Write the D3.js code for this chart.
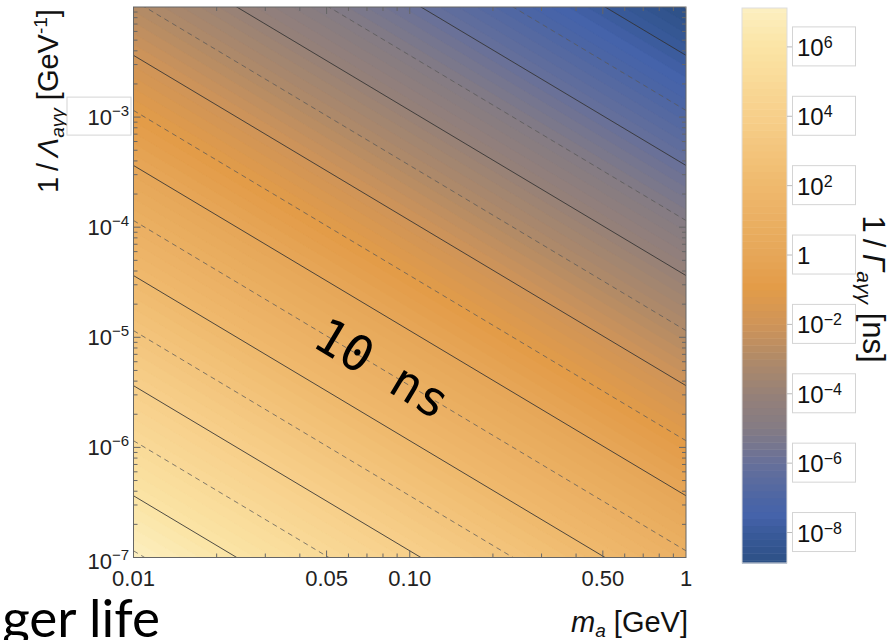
<!DOCTYPE html>
<html lang="en">
<head>
    <meta charset="UTF-8">
    <title>Axion diphoton lifetime</title>
    <style>
        body { margin: 0; padding: 0; background-color: #ffffff; }
        svg { display: block; font-family: "Liberation Sans", Arial, sans-serif; }
    </style>
</head>
<body>
<svg width="895" height="640"></svg>
<script src="https://d3js.org/d3.v7.min.js"></script>
<script>
    // axis ticks
    let massTicks = [0.01, 0.05, 0.1, 0.5, 1];
    let massTickLabels = ["0.01", "0.05", "0.10", "0.50", "1"];
    let couplingTickExps = [-7, -6, -5, -4, -3];
    let lifetimeTickExps = [6, 4, 2, 0, -2, -4, -6, -8];

    // contour levels, log10 of lifetime in ns
    let solidLevels = [-8, -6, -4, -2, 0, 2, 4, 6];
    let dashedLevels = [-9, -7, -5, -3, -1, 1, 3, 5, 7];

    // colour map (log10 ns -> colour)
    let colorStopExps = [7.12, 6, 4, 2, 0, -0.9, -2, -3, -4, -5, -6, -7, -7.5, -8, -8.88];
    let colorStopHex = ["#fcefc0", "#fbe4a5", "#f7cf8a", "#efb96d", "#e6a658", "#e39c48",
                        "#cf9458", "#b08a68", "#968178", "#847b84", "#67709a", "#4d66a4",
                        "#4563aa", "#3a5a9a", "#2c5085"];

    // 1/Gamma = 64 pi hbar / (g^2 m^3), in ns with g in GeV^-1 and m in GeV
    const TAU0 = 1.323e-13;
    let logTau = (m, g) => Math.log10(TAU0) - 2 * Math.log10(g) - 3 * Math.log10(m);

    let svg = d3.select("svg");
    let pLeft = 133.5, pRight = 686, pTop = 7, pBottom = 557.5;

    let x = d3.scaleLog().domain([0.01, 1]).range([pLeft, pRight]);
    let y = d3.scaleLog().domain([1e-7, 1e-2]).range([pBottom, pTop]);

    let color = d3.scaleLinear().domain(colorStopExps).range(colorStopHex)
        .interpolate(d3.interpolateRgb).clamp(true);

    // colour bands
    let n = 200;
    let grid = new Array(n * n);
    for (let j = 0; j < n; j++) {
        for (let i = 0; i < n; i++) {
            let m = x.invert(pLeft + (i + 0.5) / n * (pRight - pLeft));
            let g = y.invert(pTop + (j + 0.5) / n * (pBottom - pTop));
            grid[j * n + i] = logTau(m, g);
        }
    }
    let bandStep = 0.2;
    let thresholds = d3.range(-9, 7.4, bandStep);
    let contours = d3.contours().size([n, n]).thresholds(thresholds)(grid);

    let gridToPx = d3.geoTransform({
        point: function(px, py) {
            this.stream.point(pLeft + px / n * (pRight - pLeft), pTop + py / n * (pBottom - pTop));
        }
    });
    let path = d3.geoPath(gridToPx);

    svg.append("clipPath").attr("id", "plotclip")
        .append("rect").attr("x", pLeft).attr("y", pTop)
        .attr("width", pRight - pLeft).attr("height", pBottom - pTop);

    let plot = svg.append("g").attr("clip-path", "url(#plotclip)");
    plot.selectAll("path.band")
        .data(contours)
        .enter().append("path")
        .attr("class", "band")
        .attr("d", path)
        .attr("fill", d => color(d.value + bandStep / 2))
        .attr("stroke", d => color(d.value + bandStep / 2))
        .attr("stroke-width", 0.4);

    // contour lines
    let masses = [0.01, 1];
    let levelLine = L => d3.line()
        .x(m => x(m))
        .y(m => y(Math.pow(10, (Math.log10(TAU0) - L - 3 * Math.log10(m)) / 2)))(masses);

    plot.selectAll("path.dashed")
        .data(dashedLevels)
        .enter().append("path")
        .attr("d", levelLine)
        .attr("fill", "none")
        .attr("stroke", "#5a5a5a")
        .attr("stroke-opacity", 0.75)
        .attr("stroke-width", 1)
        .attr("stroke-dasharray", "5,4");

    plot.selectAll("path.solid")
        .data(solidLevels)
        .enter().append("path")
        .attr("d", levelLine)
        .attr("fill", "none")
        .attr("stroke", "#333")
        .attr("stroke-opacity", 0.85)
        .attr("stroke-width", 1);

    // "10 ns" label along the contour
    let labelMass = 0.078;
    let labelG = Math.pow(10, (Math.log10(TAU0) - 1 - 3 * Math.log10(labelMass)) / 2);
    let angle = Math.atan2(y(labelG * Math.pow(10, -1.5)) - y(labelG), x(labelMass * 10) - x(labelMass)) * 180 / Math.PI;
    svg.append("text")
        .attr("transform", `translate(${x(labelMass) + 2},${y(labelG) + 1}) rotate(${angle})`)
        .attr("text-anchor", "middle")
        .attr("dominant-baseline", "central")
        .style("font-family", "'DejaVu Sans Mono', monospace")
        .style("font-size", "49px")
        .attr("fill", "#000")
        .text("10 ns");

    // frame and ticks
    let frameColor = "#666";
    svg.append("rect")
        .attr("x", pLeft).attr("y", pTop)
        .attr("width", pRight - pLeft).attr("height", pBottom - pTop)
        .attr("fill", "none").attr("stroke", frameColor).attr("stroke-width", 1);

    let xMinor = x.ticks(20).filter(v => v > 0.01 && v < 1);
    let yMinor = y.ticks(50).filter(v => v > 1e-7 && v < 1e-2);
    let yMajorVals = [-6, -5, -4, -3].map(e => Math.pow(10, e));
    let isMajorX = v => massTicks.some(t => Math.abs(t - v) / t < 1e-6);
    let isMajorY = v => yMajorVals.some(t => Math.abs(t - v) / t < 1e-6);

    let ticks = svg.append("g").attr("stroke", frameColor).attr("stroke-width", 1);
    xMinor.forEach(v => {
        let len = isMajorX(v) ? 7 : 4;
        ticks.append("line").attr("x1", x(v)).attr("x2", x(v)).attr("y1", pBottom).attr("y2", pBottom - len);
        ticks.append("line").attr("x1", x(v)).attr("x2", x(v)).attr("y1", pTop).attr("y2", pTop + len);
    });
    yMinor.forEach(v => {
        let len = isMajorY(v) ? 7 : 4;
        ticks.append("line").attr("y1", y(v)).attr("y2", y(v)).attr("x1", pLeft).attr("x2", pLeft + len);
        ticks.append("line").attr("y1", y(v)).attr("y2", y(v)).attr("x1", pRight).attr("x2", pRight - len);
    });

    // x tick labels
    svg.append("g").selectAll("text")
        .data(massTicks)
        .enter().append("text")
        .attr("x", d => x(d))
        .attr("y", 586)
        .attr("text-anchor", "middle")
        .style("font-size", "22px")
        .attr("fill", "#222")
        .text((d, i) => massTickLabels[i]);

    // axis titles
    let xt = svg.append("text")
        .attr("x", 688).attr("y", 632)
        .attr("text-anchor", "end")
        .style("font-size", "29px")
        .attr("fill", "#111");
    xt.append("tspan").style("font-style", "italic").text("m");
    xt.append("tspan").attr("dy", 5).style("font-style", "italic").style("font-size", "19px").text("a");
    xt.append("tspan").attr("dy", -5).text(" [GeV]");

    let ytl = svg.append("text")
        .attr("transform", "translate(58,101) rotate(-90)")
        .attr("text-anchor", "middle")
        .style("font-size", "29px")
        .attr("fill", "#111");
    ytl.append("tspan").text("1\u2009/\u2009");
    ytl.append("tspan").style("font-style", "italic").text("\u039B");
    ytl.append("tspan").attr("dy", 6).style("font-style", "italic").style("font-size", "19px").text("a\u03B3\u03B3");
    ytl.append("tspan").attr("dy", -6).text(" [GeV");
    ytl.append("tspan").attr("dy", -11).style("font-size", "19px").text("-1");
    ytl.append("tspan").attr("dy", 11).text("]");

    // y tick labels (10^-3 sits in a box drawn over the title)
    let yl = svg.append("g");
    yl.append("rect")
        .attr("x", 67).attr("y", y(1e-3) - 20)
        .attr("width", 64).attr("height", 38)
        .attr("fill", "#fff").attr("stroke", "#d4d4d4");
    couplingTickExps.forEach(e => {
        let ty = y(Math.pow(10, e)) + (e == -7 ? 3 : 0);
        let t = yl.append("text")
            .attr("x", 129).attr("y", ty + 8)
            .attr("text-anchor", "end")
            .style("font-size", "22px")
            .attr("fill", "#222");
        t.append("tspan").text("10");
        t.append("tspan").attr("dy", -9).style("font-size", "15px").text("\u2212" + Math.abs(e));
    });

    // colour bar
    let cbLeft = 742, cbRight = 787, cbTop = 8, cbBottom = 563;
    let cbScale = d3.scaleLinear()
        .domain([logTau(1, 1e-2), logTau(0.01, 1e-7)])
        .range([cbBottom, cbTop]);
    let cbBands = thresholds.filter(t => t + bandStep > cbScale.domain()[0] && t < cbScale.domain()[1]);
    let cb = svg.append("g");
    cb.selectAll("rect")
        .data(cbBands)
        .enter().append("rect")
        .attr("x", cbLeft)
        .attr("width", cbRight - cbLeft)
        .attr("y", d => cbScale(Math.min(d + bandStep, cbScale.domain()[1])))
        .attr("height", d => cbScale(Math.max(d, cbScale.domain()[0])) - cbScale(Math.min(d + bandStep, cbScale.domain()[1])) + 0.5)
        .attr("fill", d => color(d + bandStep / 2));
    cb.append("rect")
        .attr("x", cbLeft).attr("y", cbTop)
        .attr("width", cbRight - cbLeft).attr("height", cbBottom - cbTop)
        .attr("fill", "none").attr("stroke", "#ddd");

    lifetimeTickExps.forEach(e => {
        let ty = cbScale(e);
        cb.append("line").attr("x1", cbRight).attr("x2", 792).attr("y1", ty).attr("y2", ty)
            .attr("stroke", "#bbb");
        cb.append("rect")
            .attr("x", 792.5).attr("y", ty - 20)
            .attr("width", 63).attr("height", 39)
            .attr("fill", "#fff").attr("stroke", "#d4d4d4");
        let t = cb.append("text")
            .attr("x", 797).attr("y", ty + 9)
            .style("font-size", "24px")
            .attr("fill", "#111");
        if (e == 0) {
            t.text("1");
        } else {
            t.append("tspan").text("10");
            t.append("tspan").attr("dy", -8).style("font-size", "16px")
                .text((e < 0 ? "\u2212" : "") + Math.abs(e));
        }
    });

    let cbt = svg.append("text")
        .attr("transform", "translate(863,289) rotate(90)")
        .attr("text-anchor", "middle")
        .style("font-size", "31px")
        .attr("fill", "#111");
    cbt.append("tspan").text("1\u2009/\u2009");
    cbt.append("tspan").style("font-style", "italic").text("\u0393");
    cbt.append("tspan").attr("dy", 6).style("font-style", "italic").style("font-size", "21px").text("a\u03B3\u03B3");
    cbt.append("tspan").attr("dy", -6).text(" [ns]");

    // slide text behind the figure
    svg.append("text")
        .attr("x", 160).attr("y", 637)
        .attr("text-anchor", "end")
        .style("font-family", "Lato, 'Open Sans', sans-serif")
        .style("font-size", "53px")
        .attr("fill", "#000")
        .text("ger life");
</script>
</body>
</html>
